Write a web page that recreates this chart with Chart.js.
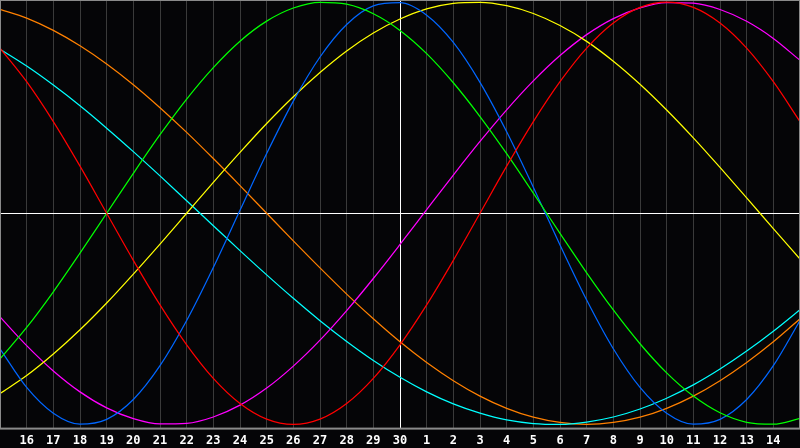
<!DOCTYPE html>
<html>
<head>
<meta charset="utf-8">
<script src="https://cdn.jsdelivr.net/npm/chart.js@4/dist/chart.umd.min.js"></script>
<style>
  html, body { margin: 0; padding: 0; background: #050507; overflow: hidden; }
  #wrap { width: 810px; height: 448px; margin-left: -5px; }
</style>
</head>
<body>
<div id="wrap"><canvas id="bioChart"></canvas></div>
<script>
// day labels, one per grid line (positions 0 and 30 are the chart edges)
const dayLabels = ['', '16', '17', '18', '19', '20', '21', '22', '23', '24', '25', '26', '27', '28', '29', '30',
                   '1', '2', '3', '4', '5', '6', '7', '8', '9', '10', '11', '12', '13', '14', ''];

// curve values, one per day (-100 .. 100)
const redValues = [78.2, 62.3, 43.4, 22.3, 0, -22.3, -43.4, -62.3, -78.2, -90.1, -97.5, -100, -97.5, -90.1, -78.2, -62.3,
                   -43.4, -22.3, 0, 22.3, 43.4, 62.3, 78.2, 90.1, 97.5, 100, 97.5, 90.1, 78.2, 62.3, 43.4];
const greenValues = [-69.0, -54.1, -37.2, -18.9, 0, 18.9, 37.2, 54.1, 69.0, 81.5, 91.0, 97.2, 99.9, 99.0, 94.5, 86.6,
                     75.6, 61.8, 45.8, 28.2, 9.5, -9.5, -28.2, -45.8, -61.8, -75.6, -86.6, -94.5, -99.0, -99.9, -97.2];
const blueValues = [-64.2, -82.5, -94.7, -99.9, -97.6, -88.2, -72.2, -50.8, -25.7, 1.4, 28.3, 53.1, 74.0, 89.4, 98.2, 99.7,
                    93.8, 80.9, 62.0, 38.6, 12.3, -15.0, -41.1, -64.2, -82.5, -94.7, -99.9, -97.6, -88.2, -72.2, -50.8];
const yellowValues = [-85.4, -76.9, -66.7, -55.2, -42.5, -28.8, -14.6, 0, 14.6, 28.8, 42.5, 55.2, 66.7, 76.9, 85.4, 92.0,
                      96.8, 99.4, 99.9, 98.3, 94.6, 88.9, 81.4, 72.0, 61.1, 48.9, 35.7, 21.7, 7.3, -7.3, -21.7];
const magentaValues = [-49.1, -62.7, -74.7, -84.6, -92.2, -97.3, -99.8, -99.5, -96.5, -90.9, -82.8, -72.4, -60.1, -46.1, -30.9, -14.8,
                       1.7, 18.1, 34.0, 49.0, 62.7, 74.7, 84.6, 92.2, 97.3, 99.8, 99.5, 96.5, 90.9, 82.8, 72.4];
const cyanValues = [77.7, 69.7, 60.7, 50.9, 40.3, 29.2, 17.7, 5.9, -5.9, -17.7, -29.2, -40.3, -50.9, -60.7, -69.7, -77.7,
                    -84.6, -90.3, -94.7, -97.9, -99.6, -100.0, -98.9, -96.5, -92.7, -87.6, -81.3, -73.8, -65.3, -55.9, -45.7];
const orangeValues = [96.6, 92.4, 86.6, 79.3, 70.7, 60.9, 50.0, 38.3, 25.9, 13.1, 0, -13.1, -25.9, -38.3, -50.0, -60.9,
                      -70.7, -79.3, -86.6, -92.4, -96.6, -99.1, -100, -99.1, -96.6, -92.4, -86.6, -79.3, -70.7, -60.9, -50.0];

const seriesList = [
    { data: redValues, color: '#ff0000' },
    { data: greenValues, color: '#00ff00' },
    { data: blueValues, color: '#0066ff' },
    { data: yellowValues, color: '#ffff00' },
    { data: magentaValues, color: '#ff00ff' },
    { data: cyanValues, color: '#00ffff' },
    { data: orangeValues, color: '#ff8000' }
];

// turn each value array into {x, y} points on the day axis
const datasets = seriesList.map(s => ({
    data: s.data.map((v, i) => ({ x: i, y: v })),
    borderColor: s.color,
    borderWidth: 1.25,
    pointRadius: 0,
    pointHoverRadius: 0,
    cubicInterpolationMode: 'monotone',
    fill: false
}));

// grey frame around the plot area
const framePlugin = {
    id: 'frame',
    afterDraw(chart) {
        const a = chart.chartArea;
        const ctx = chart.ctx;
        ctx.save();
        ctx.strokeStyle = '#8a8a8a';
        ctx.lineWidth = 2;
        ctx.strokeRect(a.left, a.top, a.right - a.left, a.bottom - a.top);
        ctx.restore();
    }
};

Chart.defaults.font.family = 'DejaVu Sans Mono';

new Chart(document.getElementById('bioChart').getContext('2d'), {
    type: 'line',
    data: { datasets: datasets },
    plugins: [framePlugin],
    options: {
        responsive: true,
        maintainAspectRatio: false,
        animation: false,
        layout: { padding: { left: 0, right: 0, top: 0, bottom: -5 }, autoPadding: false },
        plugins: {
            legend: { display: false },
            tooltip: { enabled: false }
        },
        scales: {
            x: {
                type: 'linear',
                min: 0,
                max: 30,
                grid: {
                    drawTicks: false,
                    color: ctx => ctx.tick && ctx.tick.value === 15 ? '#ffffff' : '#3a3a3a',
                    lineWidth: 1
                },
                border: { display: false },
                ticks: {
                    stepSize: 1,
                    autoSkip: false,
                    maxRotation: 0,
                    padding: 5,
                    color: '#ffffff',
                    font: { size: 12, weight: 'bold' },
                    callback: value => dayLabels[value]
                }
            },
            y: {
                min: -102,
                max: 101,
                afterBuildTicks: scale => { scale.ticks = [{ value: 0 }]; },
                grid: {
                    drawTicks: false,
                    color: '#ffffff',
                    lineWidth: 1
                },
                border: { display: false },
                ticks: { display: false }
            }
        }
    }
});
</script>
</body>
</html>
